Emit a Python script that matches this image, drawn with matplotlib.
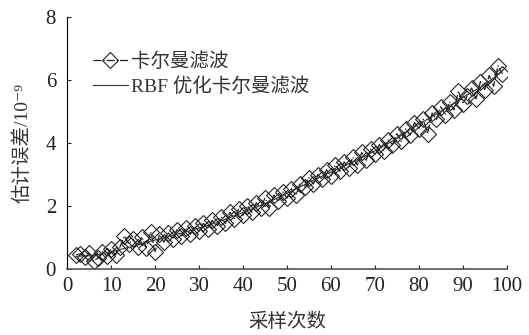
import matplotlib
matplotlib.use("Agg")
import matplotlib.pyplot as plt

# ── Data ─────────────────────────────────────────────────────────────────────
samples = list(range(2, 100))

rbf_kalman = [
    0.40, 0.41, 0.42, 0.42, 0.43, 0.46, 0.49, 0.52,
    0.55, 0.58, 0.62, 0.65, 0.69, 0.72, 0.76, 0.80, 0.84, 0.88,
    0.92, 0.95, 0.99, 1.03, 1.06, 1.10, 1.14, 1.18, 1.22, 1.26,
    1.30, 1.34, 1.38, 1.43, 1.47, 1.52, 1.58, 1.63, 1.69, 1.74,
    1.80, 1.85, 1.91, 1.96, 2.02, 2.08, 2.14, 2.20, 2.27, 2.33,
    2.40, 2.47, 2.54, 2.61, 2.68, 2.75, 2.82, 2.88, 2.95, 3.02,
    3.08, 3.14, 3.21, 3.27, 3.34, 3.40, 3.47, 3.54, 3.61, 3.68,
    3.75, 3.83, 3.91, 3.99, 4.07, 4.15, 4.24, 4.33, 4.42, 4.51,
    4.60, 4.68, 4.76, 4.84, 4.92, 5.00, 5.09, 5.18, 5.27, 5.36,
    5.45, 5.53, 5.61, 5.69, 5.77, 5.85, 5.96, 6.07, 6.18, 6.30,
]

kalman = [
    0.45, 0.48, 0.38, 0.50, 0.26, 0.35, 0.55, 0.42,
    0.62, 0.45, 0.70, 1.05, 0.80, 0.95, 0.70, 1.02, 0.68, 1.18,
    0.55, 1.10, 0.85, 1.15, 0.95, 1.25, 1.05, 1.30, 1.10, 1.35,
    1.20, 1.45, 1.28, 1.55, 1.35, 1.65, 1.45, 1.80, 1.60, 1.90,
    1.70, 2.00, 1.80, 2.10, 1.95, 2.25, 1.95, 2.35, 2.15, 2.45,
    2.25, 2.55, 2.35, 2.70, 2.60, 2.90, 2.70, 3.00, 2.85, 3.15,
    2.95, 3.30, 3.10, 3.40, 3.20, 3.55, 3.30, 3.70, 3.45, 3.80,
    3.65, 3.95, 3.75, 4.10, 3.95, 4.30, 4.05, 4.45, 4.25, 4.65,
    4.45, 4.75, 4.30, 4.95, 4.75, 5.15, 4.90, 5.30, 5.05, 5.65,
    5.25, 5.50, 5.75, 5.40, 5.95, 5.70, 6.15, 5.80, 6.45, 6.20,
]

xticks = [0, 10, 20, 30, 40, 50, 60, 70, 80, 90, 100]
yticks = [0, 2, 4, 6, 8]

# ── Style ────────────────────────────────────────────────────────────────────
plt.rcParams["font.family"] = ["Liberation Serif", "Noto Sans CJK SC", "DejaVu Serif"]
plt.rcParams["axes.unicode_minus"] = False

fig = plt.figure(figsize=(5.29, 3.35), dpi=100)
ax = fig.add_axes([0.127, 0.197, 0.831, 0.752])

ax.plot(samples, kalman, linestyle="-.", color="#222222", linewidth=0.9,
        marker="D", markersize=8, markerfacecolor="none",
        markeredgecolor="#222222", markeredgewidth=0.8, label="卡尔曼滤波")
ax.plot(samples, rbf_kalman, linestyle="-", color="#333333", linewidth=0.8,
        label="RBF 优化卡尔曼滤波")

ax.set_xlim(0, 100)
ax.set_ylim(0, 8)
ax.set_xticks(xticks)
ax.set_yticks(yticks)
ax.tick_params(direction="in", length=3, width=0.8, labelsize=15, colors="#222222")
ax.tick_params(axis="x", pad=6)
ax.tick_params(axis="y", pad=8)
ax.spines["top"].set_visible(False)
ax.spines["right"].set_visible(False)
ax.spines["left"].set_linewidth(0.8)
ax.spines["bottom"].set_linewidth(1.2)
ax.spines["bottom"].set_color("#555555")

ax.set_xlabel("采样次数", fontsize=14, labelpad=12, color="#333333")
ax.set_ylabel("估计误差/10⁻⁹", fontsize=14, labelpad=10, color="#333333")

leg = ax.legend(loc="upper left", bbox_to_anchor=(0.04, 0.89), frameon=False,
                fontsize=14, handlelength=1.8, handletextpad=0.2,
                labelspacing=0.3, borderaxespad=0)
for t in leg.get_texts():
    t.set_color("#333333")

fig.savefig("out.png", dpi=100)
